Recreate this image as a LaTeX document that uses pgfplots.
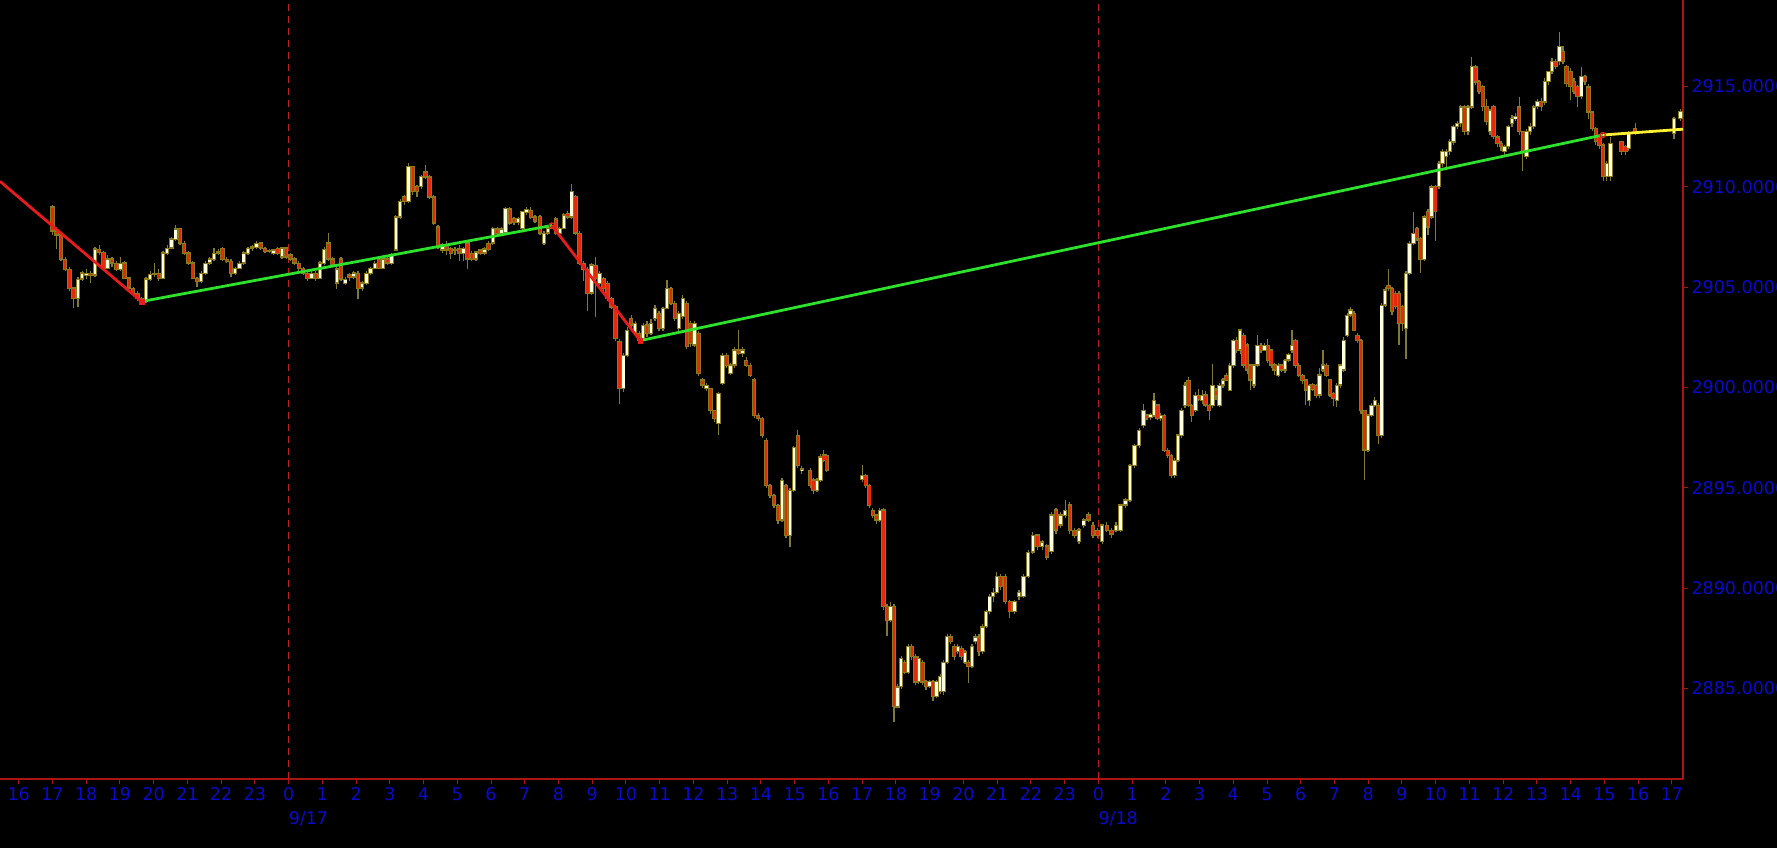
\documentclass[border=0pt]{standalone}
\usepackage{pgfplots}
\usepackage{pgfplotstable}
\pgfplotsset{compat=1.18}
\usepackage{fontspec}
\setmainfont{DejaVu Sans}
\newcommand\tickfont{\fontsize{17.5}{17.5}\selectfont}
\definecolor{axisred}{RGB}{170,20,20}
\definecolor{labblue}{RGB}{10,10,205}
\definecolor{dashred}{RGB}{190,30,30}
\definecolor{wickcol}{RGB}{130,120,55}
\definecolor{outcol}{RGB}{140,120,30}
\definecolor{bullcol}{RGB}{255,255,220}
\definecolor{bearcol}{RGB}{228,42,8}
\definecolor{zzred}{RGB}{232,28,28}
\definecolor{zzgreen}{RGB}{45,225,45}
\definecolor{zzyellow}{RGB}{255,240,50}

\pgfplotstableread{
x o h l c
-7.000 2909.0 2909.1 2907.6 2907.8
-6.874 2907.8 2908.0 2906.9 2907.6
-6.748 2907.6 2907.7 2906.3 2906.4
-6.622 2906.4 2906.5 2905.8 2905.9
-6.496 2905.9 2906.0 2904.8 2904.95
-6.370 2904.95 2905.0 2903.95 2904.45
-6.244 2904.45 2905.5 2904.0 2905.4
-6.118 2905.4 2905.8 2905.3 2905.7
-5.992 2905.6 2905.9 2905.4 2905.7
-5.866 2905.7 2905.8 2905.2 2905.6
-5.740 2905.6 2907.0 2905.5 2906.9
-5.614 2906.9 2907.1 2906.6 2906.75
-5.488 2906.75 2906.8 2905.8 2905.95
-5.362 2905.95 2906.6 2905.9 2906.4
-5.236 2906.4 2906.5 2906.0 2906.2
-5.110 2906.2 2906.3 2905.8 2905.9
-4.984 2905.9 2906.5 2905.8 2906.2
-4.858 2906.2 2906.3 2905.4 2905.45
-4.732 2905.45 2905.5 2904.9 2904.95
-4.606 2904.95 2905.0 2904.6 2904.7
-4.480 2904.7 2904.8 2904.3 2904.45
-4.354 2904.45 2904.5 2904.2 2904.3
-4.228 2904.3 2905.5 2904.2 2905.4
-4.102 2905.4 2905.8 2905.3 2905.65
-3.976 2905.65 2906.2 2905.5 2905.7
-3.850 2905.7 2905.9 2905.3 2905.45
-3.724 2905.45 2906.8 2905.4 2906.7
-3.598 2906.7 2907.1 2906.6 2906.95
-3.472 2906.95 2907.5 2906.9 2907.4
-3.346 2907.4 2908.1 2907.3 2907.9
-3.220 2907.9 2907.95 2907.1 2907.2
-3.094 2907.2 2907.3 2906.6 2906.7
-2.968 2906.7 2906.8 2906.1 2906.2
-2.842 2906.2 2906.3 2905.4 2905.45
-2.716 2905.45 2905.5 2905.0 2905.3
-2.590 2905.3 2905.8 2905.2 2905.7
-2.464 2905.7 2906.3 2905.6 2906.2
-2.338 2906.2 2906.5 2906.1 2906.4
-2.212 2906.4 2906.95 2906.3 2906.7
-2.086 2906.7 2906.9 2906.6 2906.75
-1.960 2906.95 2907.0 2906.3 2906.4
-1.834 2906.4 2906.5 2906.2 2906.3
-1.708 2906.3 2906.4 2905.5 2905.7
-1.582 2905.7 2906.0 2905.6 2905.95
-1.456 2905.95 2906.3 2905.9 2906.2
-1.330 2906.2 2906.8 2906.1 2906.7
-1.204 2906.7 2907.0 2906.6 2906.95
-1.078 2906.95 2907.1 2906.8 2907.0
-0.952 2907.0 2907.3 2906.9 2907.2
-0.826 2907.2 2907.25 2906.85 2906.95
-0.700 2906.95 2907.0 2906.7 2906.8
-0.574 2906.8 2906.9 2906.7 2906.85
-0.448 2906.7 2906.9 2906.6 2906.85
-0.322 2906.95 2907.0 2906.6 2906.7
-0.196 2906.5 2907.0 2906.4 2906.95
-0.070 2906.95 2907.0 2906.4 2906.5
0.055 2906.6 2906.7 2906.3 2906.4
0.180 2906.4 2906.5 2906.1 2906.2
0.305 2906.2 2906.3 2905.8 2905.95
0.430 2905.95 2906.0 2905.6 2905.7
0.555 2905.7 2905.8 2905.3 2905.45
0.680 2905.45 2905.8 2905.4 2905.7
0.805 2905.7 2905.8 2905.3 2905.45
0.930 2905.45 2906.3 2905.4 2906.2
1.055 2906.2 2907.0 2906.1 2906.9
1.180 2907.2 2907.7 2906.3 2906.4
1.305 2906.4 2906.5 2906.0 2906.1
1.430 2905.2 2906.0 2904.9 2905.9
1.555 2906.4 2906.5 2905.3 2905.4
1.680 2905.2 2905.5 2905.1 2905.4
1.805 2905.6 2905.7 2905.3 2905.5
1.930 2905.5 2905.8 2905.4 2905.7
2.055 2905.7 2905.8 2904.4 2904.95
2.180 2904.95 2905.3 2904.8 2905.2
2.305 2905.2 2905.8 2905.1 2905.7
2.430 2905.7 2906.0 2905.6 2905.95
2.555 2905.95 2906.3 2905.9 2906.2
2.680 2906.4 2906.5 2905.9 2905.95
2.805 2905.95 2906.5 2905.9 2906.4
2.930 2906.4 2906.5 2906.1 2906.2
3.055 2906.2 2906.7 2906.1 2906.6
3.180 2906.85 2908.6 2906.8 2908.5
3.305 2908.5 2909.4 2908.4 2909.26
3.430 2909.5 2909.6 2909.1 2909.26
3.555 2909.26 2911.2 2909.2 2911.0
3.680 2911.0 2911.05 2909.6 2909.75
3.805 2910.0 2910.1 2909.5 2909.75
3.930 2910.0 2910.6 2909.9 2910.5
4.055 2910.75 2911.1 2910.4 2910.5
4.180 2910.5 2910.6 2909.4 2909.5
4.305 2909.5 2909.6 2908.1 2908.2
4.430 2908.0 2908.1 2906.9 2907.0
4.555 2906.85 2907.2 2906.7 2907.1
4.680 2907.1 2907.3 2906.6 2906.85
4.805 2906.95 2907.0 2906.4 2906.7
4.930 2906.85 2907.0 2906.6 2906.85
5.055 2906.9 2907.1 2906.3 2906.7
5.180 2906.7 2907.0 2906.3 2906.95
5.305 2907.2 2907.3 2905.9 2906.4
5.430 2906.7 2906.8 2906.3 2906.4
5.555 2906.4 2906.8 2906.3 2906.75
5.680 2906.85 2906.9 2906.6 2906.7
5.805 2906.7 2907.0 2906.6 2906.9
5.930 2907.2 2907.3 2906.8 2906.9
6.055 2907.2 2908.0 2907.1 2907.9
6.180 2907.9 2908.0 2907.6 2907.7
6.305 2907.7 2908.0 2907.6 2907.9
6.430 2907.7 2909.0 2907.6 2908.9
6.555 2908.9 2909.0 2908.1 2908.2
6.680 2908.4 2908.5 2908.1 2908.2
6.805 2908.2 2908.5 2908.1 2908.4
6.930 2907.9 2908.8 2907.8 2908.75
7.055 2908.75 2909.0 2908.6 2908.9
7.180 2908.85 2909.0 2908.4 2908.5
7.305 2908.5 2908.6 2908.2 2908.3
7.450 2908.5 2908.6 2907.6 2907.7
7.568 2907.2 2907.8 2907.1 2907.7
7.685 2907.7 2908.0 2907.6 2907.95
7.803 2907.95 2908.2 2907.9 2908.07
7.920 2908.4 2908.5 2907.6 2907.7
8.038 2907.7 2908.0 2907.6 2907.93
8.156 2907.93 2908.7 2907.9 2908.6
8.273 2908.68 2908.8 2908.4 2908.5
8.391 2908.5 2910.17 2908.4 2909.76
8.508 2909.5 2909.6 2907.6 2907.7
8.626 2907.7 2907.8 2906.1 2906.2
8.744 2906.2 2906.3 2905.3 2905.9
8.861 2905.9 2906.0 2903.8 2904.7
8.979 2904.7 2906.2 2904.6 2906.1
9.096 2906.1 2906.52 2903.5 2905.44
9.214 2905.19 2905.8 2905.1 2905.69
9.332 2905.44 2905.5 2904.8 2904.94
9.449 2905.19 2905.3 2904.3 2904.44
9.567 2904.44 2904.5 2903.9 2904.02
9.684 2904.02 2904.1 2902.3 2902.45
9.802 2902.3 2902.4 2899.2 2899.95
9.920 2899.95 2901.7 2899.8 2901.61
10.037 2901.61 2903.0 2901.5 2902.86
10.155 2903.44 2903.6 2902.9 2903.11
10.272 2902.69 2903.3 2902.6 2903.19
10.390 2902.7 2902.8 2902.2 2902.33
10.508 2902.45 2903.2 2902.4 2903.11
10.625 2903.11 2903.3 2902.5 2902.69
10.743 2902.69 2903.4 2902.6 2903.19
10.860 2903.44 2904.1 2903.3 2903.94
10.978 2903.69 2903.8 2902.8 2902.94
11.096 2902.94 2904.0 2902.8 2903.94
11.213 2903.94 2905.35 2903.9 2904.94
11.331 2904.94 2905.0 2904.1 2904.19
11.448 2904.19 2904.3 2903.3 2903.44
11.566 2902.94 2903.8 2902.8 2903.69
11.684 2903.52 2904.6 2903.4 2904.44
11.801 2904.19 2904.3 2901.9 2902.03
11.919 2903.19 2903.3 2902.0 2902.2
12.036 2902.11 2903.3 2902.0 2903.19
12.154 2902.69 2902.8 2900.6 2900.7
12.272 2900.37 2900.5 2900.0 2900.12
12.389 2899.95 2900.2 2899.8 2900.12
12.507 2899.95 2900.0 2898.7 2898.87
12.624 2898.87 2898.9 2898.3 2898.46
12.742 2898.21 2899.8 2897.63 2899.7
12.860 2900.2 2901.7 2900.1 2901.61
12.977 2901.61 2901.7 2901.0 2901.12
13.095 2900.7 2901.2 2900.6 2901.12
13.212 2901.12 2902.0 2901.0 2901.86
13.330 2901.86 2902.86 2901.6 2901.7
13.448 2901.7 2902.0 2901.5 2901.86
13.565 2901.36 2901.5 2901.0 2901.12
13.683 2901.12 2901.2 2900.5 2900.62
13.800 2900.37 2900.5 2898.5 2898.62
13.918 2898.62 2898.7 2898.3 2898.46
14.036 2898.46 2898.5 2897.5 2897.63
14.153 2897.38 2897.5 2895.0 2895.13
14.271 2895.13 2895.2 2894.5 2894.63
14.388 2894.63 2894.7 2894.0 2894.14
14.506 2894.14 2894.2 2893.2 2893.39
14.624 2893.39 2895.5 2893.3 2895.38
14.741 2895.13 2895.2 2892.5 2892.64
14.859 2892.64 2895.0 2892.06 2894.88
14.976 2894.88 2897.1 2894.8 2897.0
15.094 2897.6 2897.9 2896.0 2896.13
15.212 2895.88 2896.1 2895.7 2895.95
15.460 2895.88 2896.0 2895.0 2895.13
15.560 2895.38 2895.5 2894.7 2894.88
15.660 2894.88 2895.5 2894.8 2895.38
15.760 2895.38 2896.7 2895.3 2896.55
15.860 2896.63 2896.9 2896.3 2896.38
15.950 2896.63 2896.7 2895.8 2895.88
17.000 2895.4 2896.13 2895.3 2895.6
17.105 2895.63 2895.7 2895.0 2895.13
17.210 2895.13 2895.2 2894.0 2894.14
17.315 2893.89 2894.0 2893.5 2893.64
17.420 2893.64 2893.7 2893.2 2893.39
17.525 2893.39 2894.0 2893.3 2893.89
17.630 2893.89 2894.0 2888.9 2889.07
17.735 2889.07 2889.2 2887.6 2888.4
17.840 2888.4 2889.3 2888.3 2889.07
17.945 2889.07 2889.2 2883.34 2884.08
18.050 2884.08 2885.2 2884.0 2885.08
18.155 2885.08 2886.6 2885.0 2886.5
18.260 2886.3 2886.4 2885.7 2885.8
18.365 2885.8 2887.2 2885.7 2887.08
18.470 2887.08 2887.2 2886.4 2886.58
18.575 2886.58 2886.7 2885.2 2885.33
18.680 2885.33 2886.6 2885.2 2886.5
18.785 2886.3 2886.4 2885.2 2885.33
18.890 2885.33 2885.4 2884.9 2885.08
18.995 2885.08 2885.4 2885.0 2885.33
19.100 2885.33 2885.4 2884.4 2884.58
19.205 2884.58 2885.4 2884.5 2885.33
19.310 2884.83 2885.7 2884.7 2885.6
19.415 2884.83 2886.4 2884.7 2886.3
19.520 2886.3 2887.7 2886.2 2887.57
19.625 2887.57 2887.7 2887.2 2887.33
19.730 2887.08 2887.2 2886.4 2886.58
19.835 2886.83 2887.2 2886.7 2887.08
19.940 2887.0 2887.1 2886.4 2886.58
20.045 2886.3 2886.9 2886.2 2886.83
20.150 2886.3 2886.4 2885.25 2886.08
20.255 2886.08 2887.2 2886.0 2887.08
20.360 2887.33 2887.7 2887.2 2887.57
20.465 2887.57 2887.7 2886.6 2886.83
20.570 2886.83 2888.2 2886.7 2888.07
20.675 2888.07 2888.9 2888.0 2888.82
20.780 2888.82 2889.7 2888.7 2889.57
20.885 2889.57 2890.0 2889.3 2889.8
20.990 2889.8 2890.8 2889.7 2890.57
21.100 2890.57 2890.7 2889.9 2890.07
21.237 2890.57 2890.7 2889.2 2889.32
21.374 2889.32 2889.4 2888.5 2888.82
21.511 2888.82 2889.4 2888.7 2889.32
21.648 2889.57 2889.9 2889.4 2889.8
21.785 2889.57 2890.7 2889.5 2890.57
21.922 2890.57 2891.9 2890.5 2891.8
22.059 2891.8 2892.8 2891.7 2892.64
22.196 2892.64 2892.7 2891.9 2892.06
22.333 2892.06 2892.4 2891.9 2892.3
22.470 2892.1 2892.2 2891.4 2891.56
22.607 2891.8 2893.8 2891.7 2893.64
22.744 2893.89 2894.0 2892.7 2892.89
22.881 2893.14 2893.8 2893.0 2893.64
23.018 2893.64 2894.4 2893.5 2893.89
23.155 2894.14 2894.3 2892.7 2892.89
23.292 2892.89 2893.0 2892.5 2892.64
23.429 2892.3 2893.0 2892.2 2892.89
23.566 2893.14 2893.5 2893.0 2893.39
23.703 2893.64 2893.8 2893.3 2893.39
23.840 2893.14 2893.3 2892.5 2892.64
23.977 2892.89 2893.0 2892.5 2892.64
24.114 2892.3 2893.2 2892.2 2893.14
24.251 2893.14 2893.3 2892.8 2892.89
24.388 2892.89 2893.0 2892.5 2892.7
24.525 2892.89 2893.3 2892.8 2893.14
24.662 2892.89 2894.2 2892.8 2894.14
24.799 2894.14 2894.5 2894.0 2894.39
24.936 2894.39 2896.2 2894.3 2896.13
25.073 2896.13 2897.2 2896.0 2897.13
25.210 2897.13 2898.0 2897.0 2897.88
25.340 2898.1 2899.2 2898.0 2898.87
25.442 2898.6 2898.7 2898.4 2898.5
25.545 2898.5 2898.75 2898.4 2898.65
25.647 2898.62 2899.7 2898.5 2899.37
25.749 2899.12 2899.2 2898.4 2898.46
25.852 2898.46 2898.7 2898.3 2898.62
25.954 2898.62 2898.7 2896.8 2896.88
26.056 2896.88 2897.0 2896.5 2896.63
26.158 2896.63 2896.7 2895.5 2895.63
26.261 2895.63 2896.5 2895.5 2896.38
26.363 2896.38 2897.7 2896.3 2897.63
26.465 2897.63 2899.0 2897.5 2898.87
26.568 2899.12 2900.3 2899.0 2900.12
26.670 2900.37 2900.5 2899.0 2899.12
26.772 2899.12 2899.2 2898.3 2898.62
26.875 2898.87 2899.8 2898.8 2899.62
26.977 2899.62 2899.9 2899.3 2899.4
27.079 2899.37 2899.9 2899.2 2899.62
27.181 2899.62 2899.8 2899.0 2899.12
27.284 2899.12 2899.2 2898.4 2898.87
27.386 2899.12 2901.2 2899.0 2900.12
27.488 2899.87 2900.0 2899.4 2899.62
27.591 2899.12 2900.2 2899.0 2900.12
27.693 2900.12 2900.5 2900.0 2900.37
27.795 2900.62 2900.7 2900.3 2900.37
27.898 2899.87 2901.2 2899.8 2901.12
28.000 2901.12 2902.4 2901.0 2902.36
28.102 2902.36 2902.5 2901.7 2901.86
28.204 2901.86 2902.95 2901.7 2902.86
28.307 2902.6 2902.7 2901.0 2901.12
28.409 2902.11 2902.2 2900.7 2900.87
28.511 2901.12 2901.2 2899.9 2900.37
28.614 2900.12 2901.2 2900.0 2901.12
28.716 2901.12 2902.6 2901.0 2902.11
28.818 2902.11 2902.2 2901.7 2901.86
28.921 2901.86 2902.2 2901.8 2902.11
29.023 2902.11 2902.4 2901.2 2901.36
29.125 2901.86 2901.9 2901.0 2901.12
29.227 2901.12 2901.2 2900.6 2900.87
29.330 2900.62 2901.2 2900.5 2901.12
29.432 2901.12 2901.2 2900.8 2900.87
29.534 2900.87 2901.4 2900.7 2901.36
29.637 2901.36 2901.7 2901.3 2901.62
29.739 2901.86 2902.86 2901.7 2902.11
29.841 2902.36 2902.4 2901.0 2901.12
29.944 2901.12 2901.2 2900.5 2900.62
30.046 2900.62 2900.7 2900.2 2900.37
30.148 2900.37 2900.4 2899.1 2899.87
30.250 2899.37 2900.2 2899.1 2900.12
30.353 2900.12 2900.2 2899.8 2899.87
30.455 2900.12 2900.2 2899.5 2899.62
30.557 2899.62 2901.0 2899.5 2900.62
30.660 2900.87 2901.86 2900.8 2901.12
30.762 2901.12 2901.2 2900.5 2900.62
30.864 2900.37 2900.4 2899.5 2899.62
30.967 2899.7 2899.8 2899.1 2899.45
31.069 2899.37 2900.2 2899.0 2900.12
31.171 2900.12 2901.2 2900.0 2901.12
31.273 2900.87 2902.5 2900.8 2902.36
31.376 2902.6 2903.7 2902.5 2903.61
31.478 2903.61 2904.0 2903.5 2903.86
31.580 2903.69 2903.8 2902.8 2902.86
31.683 2902.6 2902.7 2902.2 2902.36
31.785 2902.36 2902.4 2898.7 2898.87
31.887 2898.87 2898.9 2895.38 2896.88
31.990 2896.88 2898.7 2896.8 2898.62
32.092 2898.62 2899.2 2898.5 2899.12
32.194 2899.12 2899.5 2899.0 2899.37
32.296 2899.12 2899.2 2897.2 2897.63
32.399 2897.63 2904.2 2897.5 2904.11
32.501 2904.11 2905.0 2904.0 2904.85
32.603 2905.11 2905.9 2904.8 2904.94
32.706 2904.94 2905.0 2903.6 2903.78
32.808 2904.69 2904.8 2903.9 2904.03
32.910 2904.69 2904.8 2902.1 2903.19
33.013 2904.03 2904.1 2902.8 2903.19
33.120 2902.94 2905.8 2901.4 2905.69
33.228 2905.69 2907.3 2905.6 2907.18
33.336 2907.18 2908.76 2907.1 2907.68
33.445 2907.93 2908.0 2907.3 2907.43
33.553 2907.43 2907.5 2905.7 2906.4
33.661 2906.4 2908.6 2906.3 2908.5
33.769 2908.76 2908.9 2907.6 2908.0
33.877 2908.5 2910.1 2908.4 2910.0
33.986 2910.0 2910.1 2907.3 2908.76
34.094 2910.0 2911.3 2909.9 2911.17
34.202 2911.17 2911.9 2911.0 2911.75
34.310 2911.5 2911.9 2911.0 2911.75
34.418 2911.75 2912.4 2911.6 2912.25
34.527 2912.25 2913.1 2912.1 2913.0
34.635 2913.0 2913.3 2912.9 2913.17
34.743 2913.17 2914.1 2913.0 2913.99
34.851 2913.99 2914.1 2912.6 2912.75
34.959 2912.75 2914.1 2912.6 2913.99
35.068 2913.99 2916.5 2913.9 2915.99
35.176 2915.99 2916.1 2915.1 2915.24
35.284 2915.24 2915.3 2914.6 2914.75
35.392 2914.99 2915.1 2913.8 2913.99
35.500 2913.99 2914.4 2913.1 2913.25
35.609 2912.75 2913.9 2912.6 2913.83
35.717 2914.0 2914.1 2912.4 2912.5
35.825 2912.5 2912.6 2912.0 2912.17
35.933 2912.17 2912.3 2911.8 2912.0
36.041 2911.75 2912.1 2911.6 2912.0
36.150 2912.0 2913.1 2911.9 2913.0
36.258 2913.17 2913.6 2913.0 2913.41
36.366 2913.41 2913.7 2913.3 2913.5
36.474 2913.99 2914.5 2912.6 2912.75
36.582 2912.75 2912.8 2910.8 2911.75
36.691 2911.5 2912.9 2911.4 2912.75
36.799 2912.75 2913.2 2912.6 2913.0
36.907 2913.0 2914.1 2912.9 2913.99
37.015 2913.99 2914.4 2913.9 2914.24
37.123 2914.24 2914.4 2913.8 2913.99
37.232 2914.24 2915.4 2914.1 2915.24
37.340 2915.24 2915.8 2915.1 2915.74
37.448 2915.74 2916.4 2915.6 2916.24
37.556 2916.24 2916.4 2915.9 2915.99
37.664 2916.24 2917.7 2916.1 2916.99
37.773 2916.74 2917.0 2916.1 2916.24
37.881 2915.99 2916.1 2915.0 2915.16
37.989 2915.74 2915.9 2914.3 2914.99
38.097 2915.24 2915.4 2914.6 2914.75
38.205 2914.99 2915.1 2914.0 2914.49
38.314 2914.49 2916.0 2914.4 2915.49
38.422 2915.49 2915.6 2915.1 2915.24
38.530 2914.99 2915.1 2913.4 2913.74
38.638 2913.74 2913.8 2912.8 2912.91
38.746 2912.91 2913.0 2912.1 2912.25
38.855 2912.5 2912.6 2911.9 2912.08
38.963 2912.08 2912.2 2910.3 2910.5
39.071 2910.5 2911.3 2910.3 2911.17
39.179 2910.5 2912.5 2910.3 2912.17
39.500 2912.25 2912.3 2911.6 2911.75
39.620 2912.0 2912.1 2911.6 2911.75
39.720 2911.9 2912.8 2911.8 2912.67
39.910 2912.91 2913.2 2912.6 2912.67
41.060 2912.67 2913.5 2912.4 2913.41
41.260 2913.41 2913.9 2913.3 2913.75
}\candles

\begin{document}
\begin{tikzpicture}
\path[use as bounding box, fill=black] (0,0) rectangle (1777pt,848pt);
\begin{axis}[
  at={(0pt,69pt)}, anchor=south west,
  width=1683pt, height=779pt, scale only axis,
  xmin=-8.554, xmax=41.33, ymin=2880.48, ymax=2919.31,
  axis x line=bottom, axis y line=right,
  axis line style={draw=axisred, line width=1.3pt, -},
  tick align=outside, major tick length=5pt,
  tick style={draw=axisred, line width=1pt},
  xtick={-8,...,41},
  xticklabels={16,17,18,19,20,21,22,23,0,1,2,3,4,5,6,7,8,9,10,11,12,13,14,15,16,17,18,19,20,21,22,23,0,1,2,3,4,5,6,7,8,9,10,11,12,13,14,15,16,17},
  ytick={2885,2890,2895,2900,2905,2910,2915},
  ticklabel style={font=\tickfont, text=labblue},
  /pgf/number format/fixed,
  /pgf/number format/fixed zerofill,
  /pgf/number format/precision=4,
  /pgf/number format/1000 sep={},
  /pgf/number format/assume math mode=true,
]
% day separators
\addplot[dashred, line width=1.2pt, dash pattern=on 7pt off 5pt, forget plot] coordinates {(0,2880.48) (0,2919.31)};
\addplot[dashred, line width=1.2pt, dash pattern=on 7pt off 5pt, forget plot] coordinates {(24,2880.48) (24,2919.31)};
% wicks
\addplot[draw=none, mark=none, forget plot,
  error bars/.cd, y dir=both, y explicit, error mark=none,
  error bar style={draw=wickcol, line width=1.2pt}]
  table[x=x, y expr={(\thisrow{h}+\thisrow{l})/2}, y error expr={(\thisrow{h}-\thisrow{l})/2}] {\candles};
% body outlines
\addplot[draw=none, mark=none, forget plot,
  error bars/.cd, y dir=both, y explicit, error mark=none,
  error bar style={draw=outcol, line width=4.4pt}]
  table[x=x, y expr={(\thisrow{o}+\thisrow{c})/2}, y error expr={abs(\thisrow{c}-\thisrow{o})/2+0.03}] {\candles};
% bull fill
\addplot[draw=none, mark=none, forget plot,
  restrict expr to domain={\thisrow{c}-\thisrow{o}}{0:100},
  error bars/.cd, y dir=both, y explicit, error mark=none,
  error bar style={draw=bullcol, line width=2.5pt}]
  table[x=x, y expr={(\thisrow{o}+\thisrow{c})/2}, y error expr={max(abs(\thisrow{c}-\thisrow{o})/2-0.03,0)}] {\candles};
% bear fill
\addplot[draw=none, mark=none, forget plot,
  restrict expr to domain={\thisrow{c}-\thisrow{o}}{-100:-0.001},
  error bars/.cd, y dir=both, y explicit, error mark=none,
  error bar style={draw=bearcol, line width=2.5pt}]
  table[x=x, y expr={(\thisrow{o}+\thisrow{c})/2}, y error expr={max(abs(\thisrow{c}-\thisrow{o})/2-0.03,0)}] {\candles};
% zigzag
\addplot[zzred, line width=2.8pt, forget plot] coordinates {(-8.554,2910.27) (-4.36,2904.28)};
\addplot[zzgreen, line width=2.8pt, forget plot] coordinates {(-4.36,2904.28) (7.80,2908.07)};
\addplot[zzred, line width=2.8pt, forget plot] coordinates {(7.80,2908.07) (10.42,2902.33)};
\addplot[zzgreen, line width=2.8pt, forget plot] coordinates {(10.42,2902.33) (38.95,2912.58)};
\addplot[zzyellow, line width=2.8pt, forget plot] coordinates {(38.95,2912.58) (41.33,2912.87)};
\addplot[zzred, only marks, mark=square*, mark size=2.4pt, forget plot] coordinates {(-4.36,2904.28) (10.42,2902.33)};
\addplot[zzred, only marks, mark=o, mark size=2.6pt, line width=1.2pt, forget plot] coordinates {(7.80,2908.07) (38.95,2912.58)};
\coordinate (d17) at (axis cs:0,2880.48);
\coordinate (d18) at (axis cs:24,2880.48);
\end{axis}
\node[anchor=west, inner sep=0pt, font=\tickfont, text=labblue, yshift=-40pt] at (d17) {9/17};
\node[anchor=west, inner sep=0pt, font=\tickfont, text=labblue, yshift=-40pt] at (d18) {9/18};
\end{tikzpicture}
\end{document}
